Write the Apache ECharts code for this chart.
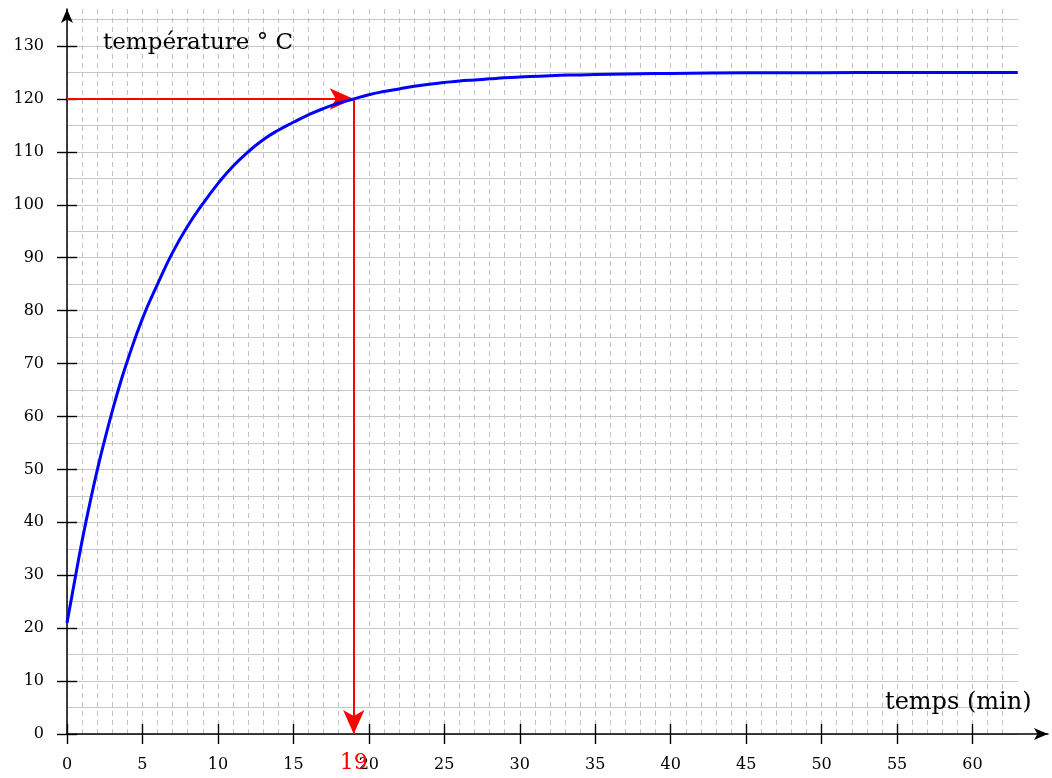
<!DOCTYPE html>
<html><head><meta charset="utf-8">
<script src="https://cdn.jsdelivr.net/npm/echarts@6/dist/echarts.min.js"></script>
<style>html,body{margin:0;padding:0;background:#fff}#c{width:1052px;height:778px}</style>
</head><body><div id="c"></div>
<script>
// ---- data ----
const times = [0, 0.5, 1, 1.5, 2, 2.5, 3, 3.5, 4, 5, 6, 7, 8, 9, 10, 11, 12, 13, 14, 15, 16, 17, 18, 19, 20, 21, 22, 23, 24, 25, 26, 27, 28, 29, 30, 32, 34, 36, 38, 40, 45, 50, 55, 63];
const temps = [21, 28.8, 36.5, 43.4, 49.8, 55.6, 61, 66, 70.5, 78.5, 85, 91, 96, 100.2, 104, 107.3, 110, 112.3, 114.1, 115.6, 117.0, 118.2, 119.2, 120, 120.8, 121.4, 121.9, 122.4, 122.8, 123.1, 123.4, 123.6, 123.8, 124.0, 124.15, 124.4, 124.55, 124.67, 124.76, 124.83, 124.93, 124.97, 125, 125];
const xTickValues = [0, 5, 10, 15, 20, 25, 30, 35, 40, 45, 50, 55, 60];
const yTickValues = [0, 10, 20, 30, 40, 50, 60, 70, 80, 90, 100, 110, 120, 130];
const markTime = 19;
const markTemp = 120;
const yTitle = 'température ° C';
const xTitle = 'temps (min)';

// ---- layout ----
const FONT = 'DejaVu Serif';
const X0 = 67, Y0 = 734, PX = 15.092, PY = 5.292;
const gridAxes = {left: X0, top: Y0 - 137 * PY, width: 65 * PX, height: 137 * PY};
const gridH = {left: X0, top: Y0 - 135 * PY, width: 63 * PX, height: 135 * PY};
const gridV = {left: X0, top: Y0 - 137 * PY, width: 62 * PX, height: 137 * PY};

const chart = echarts.init(document.getElementById('c'), null, {renderer: 'canvas'});
const tickStyle = {color: '#000', width: 1.4};
const off = {show: false};
const hiddenLine = {show: true, onZero: false, lineStyle: {color: '#000', opacity: 0}};
const option = {
  animation: false,
  backgroundColor: '#fff',
  grid: [gridAxes, gridH, gridV].map(g => Object.assign({containLabel: false}, g)),
  xAxis: [
    {gridIndex: 0, type: 'value', position: 'bottom', min: 0, max: 65, interval: 5,
     axisLine: {show: true, onZero: false, lineStyle: {color: '#000', width: 1.5}, symbol: ['none', 'arrow'], symbolSize: [9, 14], symbolOffset: [0, 0]},
     axisTick: {show: true, inside: false, length: 10, lineStyle: tickStyle, customValues: xTickValues},
     axisLabel: {show: true, margin: 23, color: '#000', fontFamily: FONT, fontSize: 16, customValues: xTickValues},
     splitLine: off},
    {gridIndex: 0, type: 'value', position: 'bottom', offset: 0, min: 0, max: 65, interval: 5,
     axisLine: hiddenLine, axisLabel: {show: true, color: 'rgba(0,0,0,0)', customValues: xTickValues}, splitLine: off,
     axisTick: {show: true, inside: true, length: 10, lineStyle: tickStyle, customValues: xTickValues}},
    {gridIndex: 1, type: 'value', min: 0, max: 63, interval: 5, axisLine: off, axisTick: off, axisLabel: off, splitLine: off},
    {gridIndex: 2, type: 'value', min: 0, max: 62, interval: 1, axisLine: off, axisTick: off, axisLabel: off,
     splitLine: {show: true, lineStyle: {color: '#c2c2c2', width: 1, type: [5, 4]}}}
  ],
  yAxis: [
    {gridIndex: 0, type: 'value', position: 'left', min: 0, max: 137, interval: 10,
     axisLine: {show: true, onZero: false, lineStyle: {color: '#000', width: 1.5}, symbol: ['none', 'arrow'], symbolSize: [9, 14], symbolOffset: [0, 0]},
     axisTick: {show: true, inside: false, length: 10, lineStyle: tickStyle, customValues: yTickValues},
     axisLabel: {show: true, margin: 23, color: '#000', fontFamily: FONT, fontSize: 16, customValues: yTickValues},
     splitLine: off},
    {gridIndex: 0, type: 'value', position: 'left', offset: 0, min: 0, max: 137, interval: 10,
     axisLine: hiddenLine, axisLabel: {show: true, color: 'rgba(0,0,0,0)', customValues: yTickValues}, splitLine: off,
     axisTick: {show: true, inside: true, length: 10, lineStyle: tickStyle, customValues: yTickValues}},
    {gridIndex: 1, type: 'value', min: 0, max: 135, interval: 5, axisLine: off, axisTick: off, axisLabel: off,
     splitLine: {show: true, lineStyle: {color: '#c6c6c6', width: 1.2}}},
    {gridIndex: 2, type: 'value', min: 0, max: 137, interval: 10, axisLine: off, axisTick: off, axisLabel: off, splitLine: off}
  ],
  graphic: [
    {type: 'text', left: 103, top: 32, style: {text: yTitle, font: '23px "' + FONT + '"', fill: '#000'}, z: 10},
    {type: 'text', left: 885, top: 691, style: {text: xTitle, font: '24px "' + FONT + '"', fill: '#000'}, z: 10}
  ],
  series: [
    {type: 'line', xAxisIndex: 0, yAxisIndex: 0, z: 5,
     data: times.map((t, i) => [t, temps[i]]),
     showSymbol: false, smooth: 0.5,
     lineStyle: {color: '#0000ff', width: 3}},
    {type: 'line', xAxisIndex: 0, yAxisIndex: 0, data: [], z: 6,
     markLine: {
       silent: true, animation: false,
       symbol: ['none', 'arrow'], symbolSize: [16, 24],
       lineStyle: {color: '#ff0000', width: 2, type: 'solid'},
       label: {show: false},
       emphasis: {disabled: true},
       data: [
         [{coord: [0, markTemp]}, {coord: [markTime, markTemp]}],
         [{coord: [markTime, markTemp],
           label: {show: true, position: 'end', formatter: String(markTime), color: '#ff0000', fontFamily: FONT, fontSize: 22, distance: 18}},
          {coord: [markTime, 0]}]
       ]
     }}
  ]
};
chart.setOption(option);
</script>
</body></html>
